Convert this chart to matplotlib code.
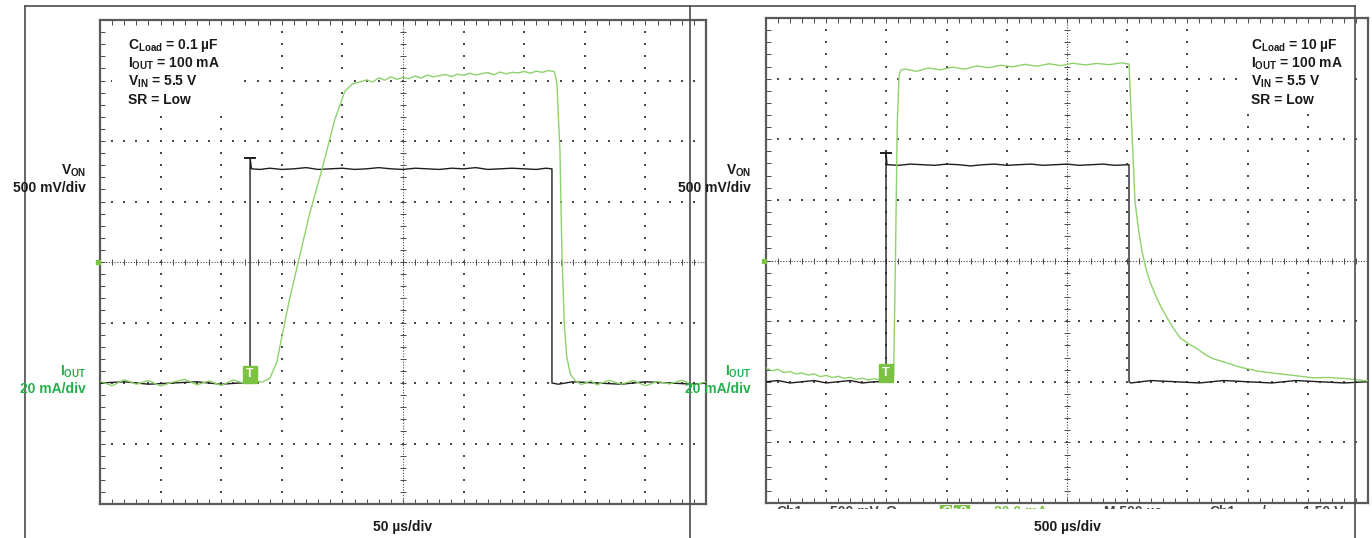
import numpy as np
import matplotlib
matplotlib.use("Agg")
import matplotlib.pyplot as plt
from matplotlib.lines import Line2D
from matplotlib.patches import Rectangle
from matplotlib.ticker import MultipleLocator
from matplotlib.transforms import blended_transform_factory

plt.rcParams['font.family'] = ['Liberation Sans', 'DejaVu Sans']
plt.rcParams['mathtext.fontset'] = 'custom'
plt.rcParams['mathtext.rm'] = 'Liberation Sans:bold'
plt.rcParams['mathtext.it'] = 'Liberation Sans:bold'
plt.rcParams['mathtext.bf'] = 'Liberation Sans:bold'

# ---------------- data ----------------
# Left screen: 50 us/div, CLoad = 0.1 uF
left_t_div = 50.0      # us / div
left_v_div = 0.5       # V / div
left_i_div = 20.0      # mA / div
left_trigger_t = -126.2
left_von_t = [-250, -230, -210, -190, -170, -150, -135, -126.2, -126.2, -125.0,
              -118, -110, -100, -90, -80, -70, -60, -50, -40, -30,
              -20, -10, 0, 10, 20, 30, 40, 50, 60, 70,
              80, 90, 100, 110, 118, 122.9, 122.9, 128, 140, 160,
              180, 200, 220, 240, 250]
left_von_v = [0.00, 0.01, -0.01, 0.00, 0.01, -0.01, 0.00, 0.00, 1.86, 1.77,
              1.765, 1.775, 1.765, 1.77, 1.78, 1.765, 1.77, 1.775, 1.765, 1.77,
              1.78, 1.77, 1.765, 1.775, 1.77, 1.765, 1.775, 1.77, 1.78, 1.765,
              1.77, 1.775, 1.77, 1.765, 1.775, 1.77, 0.00, -0.01, 0.01, 0.00,
              -0.01, 0.01, 0.00, -0.01, 0.00]
left_iout_t = [-250, -240, -230, -220, -210, -200, -190, -180, -170, -160,
               -150, -140, -130, -120, -116, -110, -104, -101.5, -94, -86.6,
               -77, -66.8, -56.1, -47.9, -42, -35, -30, -25, -20, -15,
               -10, -5, 0, 5, 10, 15, 20, 25, 30, 35,
               40, 45, 50, 55, 60, 65, 70, 75, 80, 85,
               90, 95, 100, 105, 110, 115, 120, 125, 127, 128,
               129.5, 131, 133, 135, 138, 142, 147, 155, 160, 170,
               180, 190, 200, 210, 220, 230, 240, 250]
left_iout_i = [0.6, -0.9, 1.1, -0.4, 0.8, -1.0, 0.3, 1.2, -0.6, 0.7,
               -0.8, 1.0, -0.2, 0.5, 0.3, 1.5, 7.0, 12.2, 27.0, 39.7,
               56.0, 70.7, 87.3, 96.5, 98.8, 99.6, 100.2, 99.5, 100.9, 100.1,
               101.2, 100.4, 101.0, 100.6, 101.5, 100.8, 101.8, 101.2, 101.6, 102.0,
               101.3, 102.1, 101.7, 102.4, 101.8, 102.3, 102.6, 101.9, 102.8, 102.2,
               102.7, 102.5, 103.0, 102.4, 103.1, 102.7, 103.3, 102.9, 99.0, 90.0,
               76.7, 45.0, 20.0, 9.0, 3.0, 0.8, -0.5, 0.7, -0.6, 0.9,
               -0.4, 0.8, -0.9, 0.5, -0.3, 0.9, -0.7, 0.4]

# Right screen: 500 us/div, CLoad = 10 uF
right_t_div = 500.0
right_v_div = 0.5
right_i_div = 20.0
right_trigger_t = -1503
right_von_t = [-2500, -2400, -2300, -2200, -2100, -2000, -1900, -1800, -1700, -1600,
               -1503, -1503, -1495, -1400, -1300, -1200, -1100, -1000, -900, -800,
               -700, -600, -500, -400, -300, -200, -100, 0, 100, 200,
               300, 400, 515, 515, 530, 700, 900, 1100, 1300, 1500,
               1700, 1900, 2100, 2300, 2500]
right_von_v = [0.00, 0.01, -0.01, 0.00, 0.01, -0.01, 0.00, 0.01, -0.01, 0.00,
               0.00, 1.89, 1.79, 1.785, 1.795, 1.79, 1.785, 1.795, 1.79, 1.78,
               1.79, 1.795, 1.785, 1.79, 1.795, 1.785, 1.79, 1.795, 1.785, 1.79,
               1.795, 1.785, 1.79, 0.00, -0.01, 0.01, 0.00, -0.01, 0.01, 0.00,
               -0.01, 0.01, 0.00, -0.01, 0.00]
right_iout_t = [-2500, -2450, -2400, -2350, -2300, -2250, -2200, -2150, -2100, -2050,
                -2000, -1950, -1900, -1850, -1800, -1750, -1700, -1650, -1600, -1550,
                -1500, -1460, -1440, -1425, -1410, -1395, -1380, -1350, -1250, -1150,
                -1050, -950, -850, -750, -650, -550, -450, -350, -250, -150,
                -50, 50, 150, 250, 350, 450, 515, 540, 565, 595,
                623, 655, 689, 748, 790, 831, 885, 939, 1010, 1080,
                1150, 1213, 1280, 1354, 1420, 1495, 1600, 1769, 1900, 2043,
                2180, 2326, 2420, 2500]
right_iout_i = [4.6, 3.6, 4.1, 3.0, 3.4, 2.6, 2.9, 2.2, 2.6, 1.7,
                2.1, 1.4, 1.8, 1.1, 1.5, 0.8, 1.2, 0.6, 1.0, 0.5,
                0.9, 0.6, 2.0, 40.0, 85.0, 101.0, 102.8, 103.2, 102.4, 103.5,
                102.9, 103.8, 103.1, 104.2, 103.6, 104.4, 103.9, 104.7, 104.1, 104.9,
                104.3, 105.1, 104.5, 105.0, 104.6, 105.2, 104.8, 81.8, 59.4, 50.0,
                43.0, 37.5, 33.0, 27.4, 24.0, 21.1, 17.6, 14.5, 12.5, 10.9,
                8.9, 7.6, 6.8, 5.9, 5.0, 4.3, 3.4, 2.6, 2.0, 1.3,
                1.4, 1.0, 0.6, 0.3]

left_notes = [r'C$_{\mathrm{Load}}$ = 0.1 µF', r'I$_{\mathrm{OUT}}$ = 100 mA',
              r'V$_{\mathrm{IN}}$ = 5.5 V', 'SR = Low']
right_notes = [r'C$_{\mathrm{Load}}$ = 10 µF', r'I$_{\mathrm{OUT}}$ = 100 mA',
               r'V$_{\mathrm{IN}}$ = 5.5 V', 'SR = Low']
left_xlabel = '50 µs/div'
right_xlabel = '500 µs/div'

# ---------------- styling ----------------
W, H = 1372, 538
GRID_C = '#4a4a4a'
BORDER_C = '#5a5a5a'
TRACE_BLACK = '#1e1e1e'
TRACE_GREEN = '#8ed26c'
LABEL_GREEN = '#22b04b'
MARK_GREEN = '#7cc242'
GROUND_DIV = -2.0  # both channels' ground at 2 divisions below centre

fig = plt.figure(figsize=(W / 100, H / 100), dpi=100)
fig.patch.set_facecolor('white')


def px(x, y):
    return x / W, 1 - y / H


def make_screen(rect, t_div, v_div, i_div, von_t, von_v, iout_t, iout_i, trig_t):
    x0, y0, x1, y1 = rect
    ax = fig.add_axes([x0 / W, 1 - y1 / H, (x1 - x0) / W, (y1 - y0) / H])
    ax.set_xlim(-5 * t_div, 5 * t_div)
    ax.set_ylim((-4 - GROUND_DIV) * v_div, (4 - GROUND_DIV) * v_div)
    ax.set_facecolor('white')
    for s in ax.spines.values():
        s.set_color(BORDER_C)
        s.set_linewidth(1.6)
    ax.xaxis.set_major_locator(MultipleLocator(0.2 * t_div))
    ax.yaxis.set_major_locator(MultipleLocator(0.2 * v_div))
    ax.tick_params(direction='in', length=3.5, width=0.7, colors=GRID_C,
                   top=True, right=True, labelbottom=False, labelleft=False)
    # dotted graticule (axes fractions)
    tr = ax.transAxes
    for k in range(1, 10):
        if k == 5:
            continue
        ys = np.arange(1, 40) / 40
        ax.scatter(np.full_like(ys, k / 10), ys, s=1.3, marker='s', c=GRID_C,
                   lw=0, transform=tr, zorder=1)
    for j in range(1, 8):
        if j == 4:
            continue
        xs = np.arange(1, 50) / 50
        ax.scatter(xs, np.full_like(xs, j / 8), s=1.3, marker='s', c=GRID_C,
                   lw=0, transform=tr, zorder=1)
    # centre cross with ticks
    ax.plot([0, 1], [0.5, 0.5], ls=(0, (1, 1.5)), lw=0.8, color=GRID_C,
            transform=tr, zorder=1)
    ax.plot([0.5, 0.5], [0, 1], ls=(0, (1, 1.5)), lw=0.8, color=GRID_C,
            transform=tr, zorder=1)
    xs = np.arange(1, 50) / 50
    ax.plot(xs, np.full_like(xs, 0.5), ls='none', marker='|', ms=5, mew=0.7,
            color=GRID_C, transform=tr, zorder=1)
    ys = np.arange(1, 40) / 40
    ax.plot(np.full_like(ys, 0.5), ys, ls='none', marker='_', ms=5, mew=0.7,
            color=GRID_C, transform=tr, zorder=1)

    # V_ON trace (black)
    vt = np.asarray(von_t, float)
    vv = np.asarray(von_v, float)
    ax.plot(vt, vv, color=TRACE_BLACK, lw=1.0, zorder=3)
    ipk = int(np.argmax(vv))
    ax.plot([vt[ipk]], [vv[ipk]], marker='_', ms=9, mew=1.4, color=TRACE_BLACK,
            zorder=3)

    # I_OUT trace (green) on its own scale
    ax2 = ax.twinx()
    ax2.set_ylim((-4 - GROUND_DIV) * i_div, (4 - GROUND_DIV) * i_div)
    ax2.axis('off')
    ax2.plot(iout_t, iout_i, color=TRACE_GREEN, lw=1.0, zorder=4)

    # trigger marker box
    bt = blended_transform_factory(ax.transData, ax.transAxes)
    ax2.text(trig_t, 0.268, 'T', transform=bt, ha='center', va='center',
             fontsize=9, fontweight='bold', color='white', zorder=6,
             bbox=dict(boxstyle='square,pad=0.22', fc=MARK_GREEN, ec=MARK_GREEN))
    # channel position marker on left edge
    ax2.plot([-0.004], [0.5], transform=ax.transAxes, marker='s', ms=3.0,
             color=MARK_GREEN, clip_on=False, zorder=6)
    return ax


make_screen((100, 20, 706, 504), left_t_div, left_v_div, left_i_div,
            left_von_t, left_von_v, left_iout_t, left_iout_i, left_trigger_t)
make_screen((766, 18, 1368, 503), right_t_div, right_v_div, right_i_div,
            right_von_t, right_von_v, right_iout_t, right_iout_i, right_trigger_t)

# cropped scope status line under the right screen (only the tops are visible)
sax = fig.add_axes([766 / W, 1 - 509 / H, 602 / W, 4 / H])
sax.set_xlim(766, 1368)
sax.set_ylim(0, 1)
sax.axis('off')
status = [(776, 'Ch1', '#444444'), (830, '500 mV', '#444444'), (885, 'Ω', '#444444'),
          (994, '20.0 mA', MARK_GREEN), (1104, 'M 500 µs', '#444444'),
          (1209, 'Ch1', '#444444'), (1262, '/', '#444444'), (1303, '1.50 V', '#444444')]
for x, s, c in status:
    t = sax.text(x, 0.9, s, ha='left', va='top', fontsize=10, fontweight='bold',
                 color=c)
    t.set_clip_box(sax.bbox)
    t.set_clip_on(True)
t = sax.text(941, 0.9, 'Ch2', ha='left', va='top', fontsize=10, fontweight='bold',
             color='white',
             bbox=dict(boxstyle='square,pad=0.1', fc=MARK_GREEN, ec=MARK_GREEN))
t.set_clip_box(sax.bbox)
t.set_clip_on(True)
t.get_bbox_patch().set_clip_box(sax.bbox)
t.get_bbox_patch().set_clip_on(True)

# white panels behind the test-condition notes
for bx0, bx1 in ((112, 244), (1243, 1352)):
    fig.add_artist(Rectangle((bx0 / W, 1 - 110 / H), (bx1 - bx0) / W, 82 / H,
                             transform=fig.transFigure, fc='white', ec='none',
                             zorder=10))

# outer frames of the two screenshots
frame_kw = dict(color='#4d4d4d', lw=1.2, zorder=20)
for xs_, ys_ in [([25, 1355], [6, 6]), ([25, 25], [6, 540]),
                 ([690, 690], [6, 540]), ([1355, 1355], [6, 540])]:
    fig.add_artist(Line2D([x / W for x in xs_], [1 - y / H for y in ys_], **frame_kw))

# channel labels
for xr in (86, 751):
    fig.text(*px(xr, 171), r'V$_{\mathrm{ON}}$', ha='right', va='center',
             fontsize=10, fontweight='bold', color='#1a1a1a', zorder=25)
    fig.text(*px(xr, 188), '500 mV/div', ha='right', va='center',
             fontsize=10, fontweight='bold', color='#1a1a1a', zorder=25)
    fig.text(*px(xr, 372), r'I$_{\mathrm{OUT}}$', ha='right', va='center',
             fontsize=10, fontweight='bold', color=LABEL_GREEN, zorder=25)
    fig.text(*px(xr, 389), '20 mA/div', ha='right', va='center',
             fontsize=10, fontweight='bold', color=LABEL_GREEN, zorder=25)

# test-condition notes
for xl, notes in ((128, left_notes), (1251, right_notes)):
    for n, s in enumerate(notes):
        fig.text(*px(xl, 46 + 18 * n), s, ha='left', va='center', fontsize=10,
                 fontweight='bold', color='#1a1a1a', zorder=25)

fig.text(*px(403, 527), left_xlabel, ha='center', va='center', fontsize=10,
         fontweight='bold', color='#1a1a1a')
fig.text(*px(1067, 527), right_xlabel, ha='center', va='center', fontsize=10,
         fontweight='bold', color='#1a1a1a')

fig.savefig('out.png', dpi=100, facecolor='white')
